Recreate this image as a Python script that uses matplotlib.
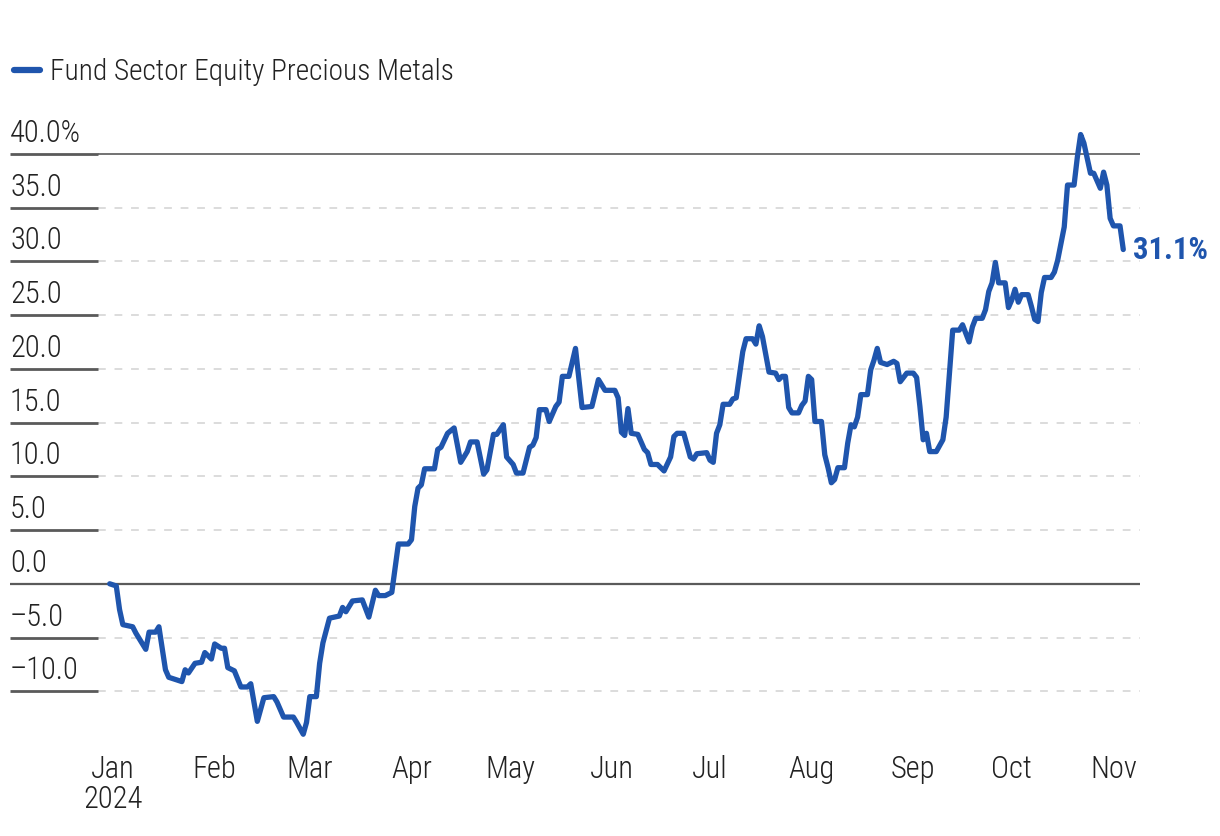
import matplotlib
matplotlib.use("Agg")
import matplotlib.pyplot as plt
import pandas as pd
from matplotlib.font_manager import fontManager

names = {f.name for f in fontManager.ttflist}
FONT = "DejaVu Sans"
for cand in ["Roboto Condensed", "IBM Plex Sans Condensed", "Open Sans Condensed",
             "Liberation Sans Narrow", "Liberation Sans"]:
    if cand in names:
        FONT = cand
        break
plt.rcParams["font.family"] = [FONT, "DejaVu Sans"]

series_name = "Fund Sector Equity Precious Metals"
end_label = "31.1%"

dates = [
    "2023-12-31", "2024-01-02", "2024-01-03", "2024-01-04", "2024-01-07", "2024-01-08",
    "2024-01-11", "2024-01-12", "2024-01-14", "2024-01-15", "2024-01-17", "2024-01-18",
    "2024-01-22", "2024-01-23", "2024-01-24", "2024-01-26", "2024-01-28", "2024-01-29",
    "2024-01-31", "2024-02-01", "2024-02-03", "2024-02-04", "2024-02-05", "2024-02-07",
    "2024-02-09", "2024-02-11", "2024-02-12", "2024-02-14", "2024-02-16", "2024-02-19",
    "2024-02-20", "2024-02-22", "2024-02-25", "2024-02-26", "2024-02-28", "2024-02-29",
    "2024-03-01", "2024-03-03", "2024-03-04", "2024-03-05", "2024-03-07", "2024-03-10",
    "2024-03-11", "2024-03-12", "2024-03-14", "2024-03-17", "2024-03-19", "2024-03-21",
    "2024-03-22", "2024-03-24", "2024-03-26", "2024-03-28", "2024-03-31", "2024-04-01",
    "2024-04-02", "2024-04-03", "2024-04-04", "2024-04-05", "2024-04-08", "2024-04-09",
    "2024-04-10", "2024-04-12", "2024-04-14", "2024-04-16", "2024-04-18", "2024-04-19",
    "2024-04-21", "2024-04-23", "2024-04-24", "2024-04-26", "2024-04-27", "2024-04-29",
    "2024-04-30", "2024-05-02", "2024-05-03", "2024-05-05", "2024-05-07", "2024-05-08",
    "2024-05-09", "2024-05-10", "2024-05-12", "2024-05-13", "2024-05-15", "2024-05-16",
    "2024-05-17", "2024-05-19", "2024-05-21", "2024-05-23", "2024-05-26", "2024-05-28",
    "2024-05-30", "2024-06-02", "2024-06-03", "2024-06-04", "2024-06-05", "2024-06-06",
    "2024-06-07", "2024-06-09", "2024-06-11", "2024-06-12", "2024-06-13", "2024-06-15",
    "2024-06-17", "2024-06-19", "2024-06-20", "2024-06-21", "2024-06-23", "2024-06-25",
    "2024-06-26", "2024-06-27", "2024-06-30", "2024-07-01", "2024-07-02", "2024-07-03",
    "2024-07-04", "2024-07-05", "2024-07-07", "2024-07-08", "2024-07-09", "2024-07-11",
    "2024-07-12", "2024-07-14", "2024-07-15", "2024-07-16", "2024-07-17", "2024-07-19",
    "2024-07-21", "2024-07-22", "2024-07-23", "2024-07-24", "2024-07-25", "2024-07-26",
    "2024-07-28", "2024-07-29", "2024-07-30", "2024-07-31", "2024-08-01", "2024-08-02",
    "2024-08-04", "2024-08-05", "2024-08-06", "2024-08-07", "2024-08-08", "2024-08-09",
    "2024-08-11", "2024-08-12", "2024-08-13", "2024-08-14", "2024-08-15", "2024-08-16",
    "2024-08-18", "2024-08-19", "2024-08-20", "2024-08-21", "2024-08-22", "2024-08-24",
    "2024-08-26", "2024-08-27", "2024-08-28", "2024-08-29", "2024-08-30", "2024-09-01",
    "2024-09-02", "2024-09-03", "2024-09-04", "2024-09-05", "2024-09-06", "2024-09-08",
    "2024-09-10", "2024-09-11", "2024-09-13", "2024-09-15", "2024-09-16", "2024-09-17",
    "2024-09-18", "2024-09-19", "2024-09-20", "2024-09-22", "2024-09-23", "2024-09-24",
    "2024-09-25", "2024-09-26", "2024-09-27", "2024-09-29", "2024-09-30", "2024-10-01",
    "2024-10-02", "2024-10-03", "2024-10-04", "2024-10-06", "2024-10-07", "2024-10-08",
    "2024-10-09", "2024-10-10", "2024-10-11", "2024-10-13", "2024-10-14", "2024-10-15",
    "2024-10-17", "2024-10-18", "2024-10-20", "2024-10-21", "2024-10-22", "2024-10-23",
    "2024-10-25", "2024-10-26", "2024-10-28", "2024-10-29", "2024-10-30", "2024-10-31",
    "2024-11-01", "2024-11-03", "2024-11-04",
]

values = [
    0.0, -0.2, -2.4, -3.8, -4.0, -4.6,
    -6.1, -4.5, -4.5, -4.0, -8.0, -8.7,
    -9.1, -8.0, -8.3, -7.4, -7.3, -6.4,
    -7.0, -5.6, -6.0, -6.0, -7.8, -8.1,
    -9.6, -9.6, -9.3, -12.8, -10.6, -10.5,
    -11.0, -12.4, -12.4, -12.9, -14.0, -12.9,
    -10.5, -10.5, -7.4, -5.5, -3.2, -3.0,
    -2.2, -2.6, -1.6, -1.5, -3.1, -0.6,
    -1.1, -1.1, -0.8, 3.7, 3.7, 4.1,
    7.2, 8.9, 9.2, 10.7, 10.7, 12.5,
    12.7, 14.0, 14.5, 11.3, 12.3, 13.2,
    13.2, 10.2, 10.6, 13.9, 13.9, 14.8,
    11.8, 11.1, 10.3, 10.3, 12.7, 12.9,
    13.6, 16.2, 16.2, 15.1, 16.5, 16.9,
    19.3, 19.3, 21.9, 16.4, 16.5, 19.0,
    18.0, 18.0, 17.3, 14.1, 13.8, 16.3,
    14.0, 13.9, 12.5, 12.2, 11.1, 11.1,
    10.5, 11.8, 13.7, 14.0, 14.0, 11.8,
    11.6, 12.1, 12.2, 11.5, 11.3, 14.0,
    14.8, 16.7, 16.7, 17.2, 17.3, 21.6,
    22.8, 22.8, 22.3, 24.0, 23.0, 19.7,
    19.6, 19.0, 19.3, 19.3, 16.4, 15.9,
    15.9, 16.6, 17.0, 19.3, 19.0, 15.1,
    15.1, 12.0, 10.8, 9.4, 9.7, 10.8,
    10.8, 13.1, 14.8, 14.6, 15.5, 17.6,
    17.6, 19.9, 20.8, 21.9, 20.6, 20.4,
    20.7, 20.5, 18.8, 19.2, 19.6, 19.6,
    19.2, 16.5, 13.4, 14.0, 12.3, 12.3,
    13.4, 15.5, 23.6, 23.6, 24.1, 23.3,
    22.5, 23.9, 24.7, 24.7, 25.5, 27.2,
    28.0, 29.9, 28.0, 28.0, 25.7, 26.4,
    27.4, 26.2, 26.9, 26.9, 25.8, 24.6,
    24.4, 27.1, 28.5, 28.5, 29.0, 30.1,
    33.2, 37.1, 37.1, 39.7, 41.8, 41.0,
    38.2, 38.2, 36.8, 38.3, 37.1, 34.0,
    33.3, 33.3, 31.1,
]

y_ticks = [-10, -5, 0, 5, 10, 15, 20, 25, 30, 35, 40]
y_tick_labels = ["\u201310.0", "\u20135.0", "0.0", "5.0", "10.0", "15.0", "20.0",
                 "25.0", "30.0", "35.0", "40.0%"]
month_ticks = ["2024-01-01", "2024-02-01", "2024-03-01", "2024-04-01", "2024-05-01",
               "2024-06-01", "2024-07-01", "2024-08-01", "2024-09-01", "2024-10-01",
               "2024-11-01"]
month_labels = ["Jan\n2024", "Feb", "Mar", "Apr", "May", "Jun", "Jul", "Aug", "Sep",
                "Oct", "Nov"]

BLUE = "#1f55ad"
DARK = "#5a5a5a"
GRID = "#dcdcdc"
TEXT = "#222222"
FS = 22
W = "light"

x = pd.to_datetime(dates)

fig = plt.figure(figsize=(12.2, 8.36), dpi=100)
ax = fig.add_axes([98 / 1220, 1 - 745 / 836, 1042 / 1220, 618 / 836])

x0 = pd.Timestamp("2024-01-01")
ax.set_xlim(x0 - pd.Timedelta(days=4.57), x0 + pd.Timedelta(days=313.1))
ax.set_ylim(-15, 42.5)

for s in ax.spines.values():
    s.set_visible(False)

left_ext = -(98 - 10) / 1042  # axes fraction
for t in y_ticks:
    if t in (0, 40):
        ax.axhline(t, color=DARK, lw=1.2 if t == 40 else 1.6, zorder=1)
    else:
        ax.axhline(t, color=GRID, lw=1.4, ls=(0, (4, 4.5)), zorder=1)
    ax.plot([left_ext, 0], [t, t], color=DARK, lw=2.0 if t != 0 else 1.6,
            transform=ax.get_yaxis_transform(), clip_on=False, solid_capstyle="butt")

ax.plot(x, values, color=BLUE, lw=3.8, solid_joinstyle="round",
        solid_capstyle="round", zorder=3, clip_on=False)

ax.set_yticks(y_ticks)
ax.set_yticklabels([])
ax.tick_params(axis="y", length=0)
for t, lab in zip(y_ticks, y_tick_labels):
    ax.text(left_ext, t + 0.55, lab, transform=ax.get_yaxis_transform(),
            ha="left", va="bottom", fontsize=FS, color=TEXT, fontweight=W)

ax.set_xticks(pd.to_datetime(month_ticks))
ax.set_xticklabels(month_labels, fontsize=FS, color=TEXT, linespacing=1.05,
                   fontweight=W)
ax.tick_params(axis="x", length=0, pad=7)

ax.annotate(end_label, xy=(x[-1], values[-1]), xytext=(7, 0),
            textcoords="offset points", ha="left", va="center",
            fontsize=FS, color=BLUE, fontweight="semibold")

fig.lines.append(plt.Line2D([14 / 1220, 40 / 1220], [1 - 70 / 836, 1 - 70 / 836],
                            transform=fig.transFigure, color=BLUE, lw=4.5,
                            solid_capstyle="round"))
fig.text(50 / 1220, 1 - 72 / 836, series_name, ha="left", va="center",
         fontsize=21.2, color=TEXT, fontweight=W)

fig.savefig("out.png", dpi=100)
